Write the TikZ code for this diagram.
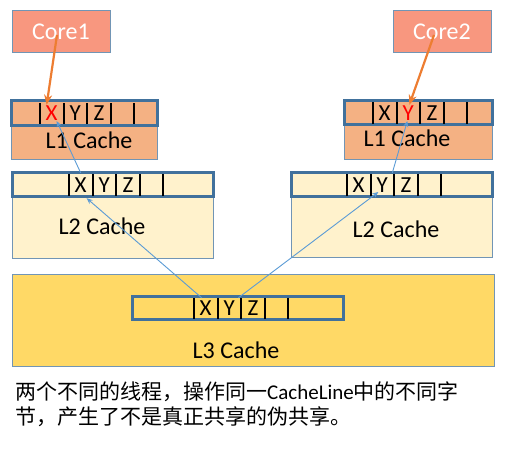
\documentclass[tikz,border=0pt]{standalone}
\usepackage{fontspec}
\setmainfont{Carlito}
\newfontfamily\cjk{Noto Sans CJK SC}
\usetikzlibrary{arrows.meta,positioning,calc}
\definecolor{corefill}{HTML}{F8977F}
\definecolor{lonefill}{HTML}{F4B183}
\definecolor{ltwofill}{HTML}{FFF2CC}
\definecolor{lthreefill}{HTML}{FFD966}
\definecolor{edge}{HTML}{41719C}
\definecolor{hit}{HTML}{ED7D31}
\definecolor{link}{HTML}{5B9BD5}

\begin{document}
\begin{tikzpicture}[x=1pt,y=-1pt,
  corebox/.style={draw=edge!75,line width=0.8pt,fill=corefill,text=white,
    font=\fontsize{24}{28}\selectfont,minimum width=98pt,minimum height=42pt,inner sep=0pt},
  cachebox/.style={draw=edge!75,line width=0.8pt,inner sep=0pt},
  strip/.style={draw=edge,line width=3pt,inner sep=0pt},
  lbl/.style={anchor=base,font=\fontsize{24}{28}\selectfont},
  cell/.style={inner sep=0pt,minimum width=23.3pt,minimum height=21pt,
    text height=15pt,text depth=0pt,font=\fontsize{23}{27}\selectfont},
  bar/.style={black,line width=2pt},
  fetch/.style={hit,line width=2.2pt,-{Stealth[length=10pt,width=8pt]}},
  load/.style={link,line width=0.9pt,-{Stealth[length=6pt,width=5pt]}}]
  \useasboundingbox (0,0) rectangle (507,449);

  % cores
  \node[corebox] (core1) at (61,31.5) {Core1};
  \node[corebox] (core2) at (442,31.5) {Core2};

  % L1 / L2 / L3 boxes
  \node[cachebox,fill=lonefill,minimum width=146pt,minimum height=58pt] (l1a) at (84,130) {};
  \node[strip,minimum width=146pt,minimum height=25pt] (l1astrip) at (84,113.5) {};
  \node[cachebox,fill=lonefill,minimum width=148pt,minimum height=58pt] (l1b) at (418,130) {};
  \node[strip,minimum width=148pt,minimum height=24pt] (l1bstrip) at (418,113) {};
  \node[cachebox,fill=ltwofill,minimum width=201pt,minimum height=85pt] (l2a) at (112.5,215.5) {};
  \node[strip,minimum width=201pt,minimum height=24pt] (l2astrip) at (112.5,185) {};
  \node[cachebox,fill=ltwofill,minimum width=201pt,minimum height=84pt] (l2b) at (391.5,215) {};
  \node[strip,minimum width=201pt,minimum height=24pt] (l2bstrip) at (391.5,185) {};
  \node[cachebox,fill=lthreefill,minimum width=482pt,minimum height=92pt] (l3) at (253,320) {};
  \node[strip,minimum width=211pt,minimum height=23pt] (l3strip) at (237.5,308.5) {};

  \node[lbl] (l1alabel) at (89,149) {L1 Cache};
  \node[lbl] (l1blabel) at (407,147) {L1 Cache};
  \node[lbl] (l2alabel) at (102,235) {L2 Cache};
  \node[lbl] (l2blabel) at (396,238) {L2 Cache};
  \node[lbl] (l3label) at (236,359) {L3 Cache};

  % cache line cells
  \node[cell,text=red] (l1ax) at (51.65,113.5) {X};
  \node[cell,right=0pt of l1ax] (l1ay) {Y};
  \node[cell,right=0pt of l1ay] (l1az) {Z};
  \node[cell] (l1bx) at (384.65,113) {X};
  \node[cell,right=0pt of l1bx,text=red] (l1by) {Y};
  \node[cell,right=0pt of l1by] (l1bz) {Z};
  \node[cell] (l2ax) at (80.65,185) {X};
  \node[cell,right=0pt of l2ax] (l2ay) {Y};
  \node[cell,right=0pt of l2ay] (l2az) {Z};
  \node[cell] (l2bx) at (358.65,185) {X};
  \node[cell,right=0pt of l2bx] (l2by) {Y};
  \node[cell,right=0pt of l2by] (l2bz) {Z};
  \node[cell] (l3x) at (205.65,308.5) {X};
  \node[cell,right=0pt of l3x] (l3y) {Y};
  \node[cell,right=0pt of l3y] (l3z) {Z};

  \foreach \c in {l1a,l1b,l2a,l2b,l3} {
    \foreach \s in {x,y,z}
      \draw[bar] (\c\s.north west) -- (\c\s.south west);
    \draw[bar] (\c z.north east) -- (\c z.south east)
      ([xshift=23.3pt]\c z.north east) -- ([xshift=23.3pt]\c z.south east);
  }

  % accesses
  \draw[fetch] ([xshift=-4pt,yshift=-3.5pt]core1.center) -- ([xshift=-5pt,yshift=-2pt]l1ax.north);
  \draw[fetch] ([xshift=-8pt,yshift=-3.5pt]core2.center) -- ([xshift=1pt,yshift=-2.5pt]l1by.north);
  \draw[load] ([xshift=-4pt]l3x.north) -- ([xshift=6pt,yshift=-2.5pt]l2ax.south);
  \draw[load] ([yshift=1.5pt]l2ax.north) -- ([xshift=5pt,yshift=-7.5pt]l1ax.center);
  \draw[load] ([xshift=9pt]l3y.north) -- ([xshift=-4pt,yshift=-7pt]l2by.center);
  \draw[load] ([xshift=10pt,yshift=1.5pt]l2by.north) -- ([xshift=-1pt,yshift=-8pt]l1by.center);

  % note
  \node[anchor=base west,inner sep=0pt,font=\fontsize{21}{25}\selectfont] (note1) at (15,400)
    {{\cjk 两个不同的线程，操作同一}CacheLine{\cjk 中的不同字}};
  \node[anchor=base west,inner sep=0pt,font=\fontsize{21}{25}\selectfont] (note2) at (15,425)
    {{\cjk 节，产生了不是真正共享的伪共享。}};
\end{tikzpicture}
\end{document}
